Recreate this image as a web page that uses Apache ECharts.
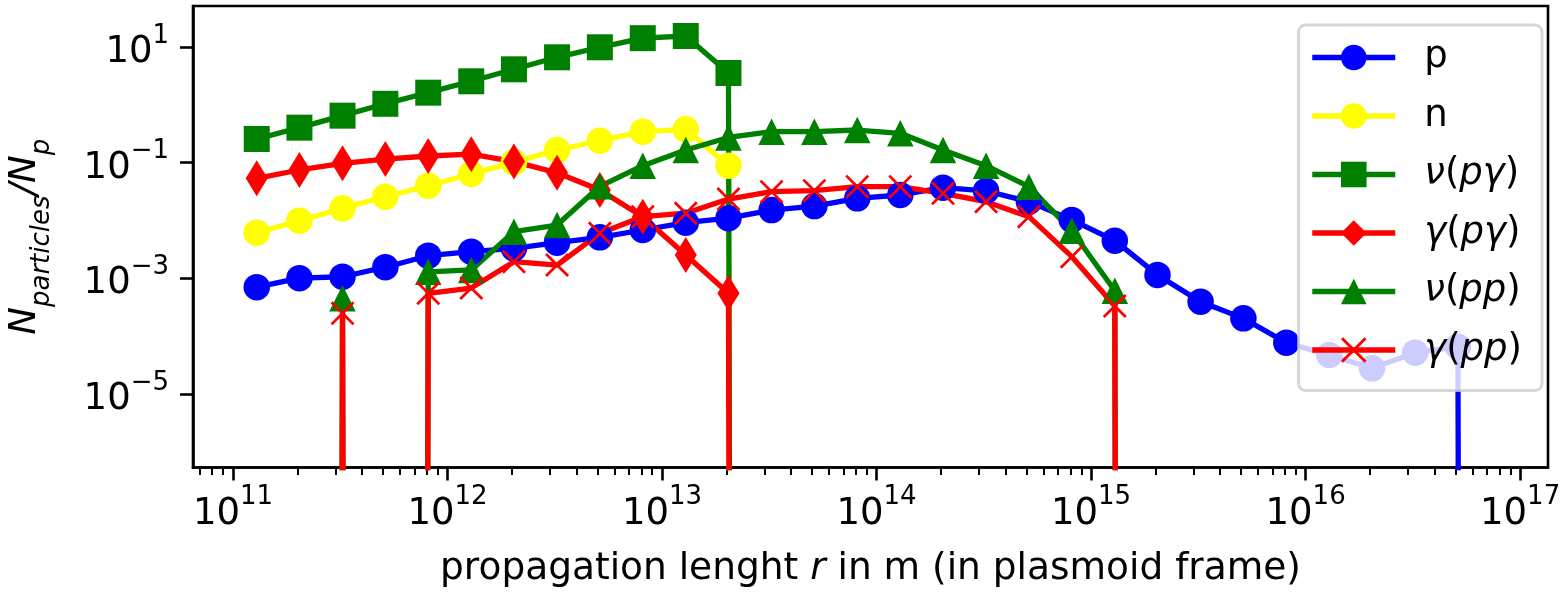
<!DOCTYPE html>
<html><head><meta charset="utf-8">
<script src="https://cdn.jsdelivr.net/npm/echarts@6/dist/echarts.min.js"></script>
<style>html,body{margin:0;padding:0;background:#fff}#c{width:1560px;height:592px}</style>
</head><body><div id="c"></div>
<script>
// propagation length r (m)
const r = [1.29e11, 2.04e11, 3.24e11, 5.13e11, 8.13e11, 1.29e12, 2.04e12, 3.24e12, 5.13e12, 8.13e12,
           1.29e13, 2.04e13, 3.24e13, 5.13e13, 8.13e13, 1.29e14, 2.04e14, 3.24e14, 5.13e14, 8.13e14,
           1.29e15, 2.04e15, 3.24e15, 5.13e15, 8.13e15, 1.29e16, 2.04e16, 3.24e16, 5.13e16, 8.13e16];
const pData = [7.0e-4, 1.0e-3, 1.06e-3, 1.55e-3, 2.45e-3, 2.87e-3, 3.29e-3, 4.11e-3, 5.10e-3, 6.82e-3,
               9.12e-3, 1.09e-2, 1.51e-2, 1.77e-2, 2.41e-2, 2.75e-2, 3.68e-2, 3.23e-2, 2.11e-2, 1.02e-2,
               4.46e-3, 1.14e-3, 3.92e-4, 2.02e-4, 7.66e-5, 4.69e-5, 2.76e-5, 5.14e-5, 6.53e-5, 0];
const nData = [6.12e-3, 9.88e-3, 1.62e-2, 2.57e-2, 3.98e-2, 6.35e-2, 0.101, 0.165, 0.239, 0.343,
               0.377, 0.0883, 0, 0, 0, 0, 0, 0, 0, 0,
               0, 0, 0, 0, 0, 0, 0, 0, 0, 0];
const nuPgData = [0.256, 0.402, 0.648, 1.04, 1.62, 2.55, 4.11, 6.63, 9.88, 14.2,
                  15.5, 3.55, 0, 0, 0, 0, 0, 0, 0, 0,
                  0, 0, 0, 0, 0, 0, 0, 0, 0, 0];
const gammaPgData = [0.0535, 0.0745, 0.0972, 0.115, 0.130, 0.140, 0.104, 0.0668, 0.0336, 0.0116,
                     2.52e-3, 5.48e-4, 0, 0, 0, 0, 0, 0, 0, 0,
                     0, 0, 0, 0, 0, 0, 0, 0, 0, 0];
const nuPpData = [0, 0, 4.49e-4, 0, 1.29e-3, 1.39e-3, 6.37e-3, 8.32e-3, 0.0389, 0.0883,
                  0.165, 0.272, 0.343, 0.343, 0.366, 0.321, 0.165, 0.0883, 0.0383, 6.64e-3,
                  6.08e-4, 0, 0, 0, 0, 0, 0, 0, 0, 0];
const gammaPpData = [0, 0, 2.47e-4, 0, 5.48e-4, 6.76e-4, 1.93e-3, 1.69e-3, 5.98e-3, 0.0116,
                     0.0133, 0.0234, 0.0314, 0.0327, 0.0383, 0.0383, 0.0294, 0.0211, 0.0116, 2.36e-3,
                     3.30e-4, 0, 0, 0, 0, 0, 0, 0, 0, 0];
const seriesNames = ['p', 'n', 'ν(pγ)', 'γ(pγ)', 'ν(pp)', 'γ(pp)'];
const xTickExps = [11, 12, 13, 14, 15, 16, 17];
const yTickExps = [-5, -3, -1, 1];
const xTitle = 'propagation lenght r in m (in plasmoid frame)';

const FONT = 'DejaVu Sans';
const FS = 37;
const LW = 5.3;
const FLOOR = -300; // log10 of a zero value: far below the axis, clipped like matplotlib
const toPts = vals => r.map((x, i) => [Math.log10(x), vals[i] > 0 ? Math.log10(vals[i]) : FLOOR]);

const X_PATH = 'path://M0,0.8L0.8,0L5,4.2L9.2,0L10,0.8L5.8,5L10,9.2L9.2,10L5,5.8L0.8,10L0,9.2L4.2,5Z';
const D_PATH = 'path://M11,0L22,18L11,36L0,18Z';
const styles = [
  {data: pData, color: '#0000ff', symbol: 'circle', size: 26.5},
  {data: nData, color: '#ffff00', symbol: 'circle', size: 26.5},
  {data: nuPgData, color: '#008000', symbol: 'rect', size: 26},
  {data: gammaPgData, color: '#ff0000', symbol: D_PATH, size: 36},
  {data: nuPpData, color: '#008000', symbol: 'triangle', size: 26.5},
  {data: gammaPpData, color: '#ff0000', symbol: X_PATH, size: 24}
];

const series = styles.map((s, i) => ({
  name: seriesNames[i],
  type: 'line',
  data: toPts(s.data),
  symbol: s.symbol,
  symbolSize: s.size,
  symbolKeepAspect: true,
  showSymbol: true,
  clip: true,
  lineStyle: {color: s.color, width: LW},
  itemStyle: {color: s.color, borderWidth: 0},
  emphasis: {disabled: true},
  animation: false
}));

const minorTicks = [];
for (let e = 10; e <= 17; e++) for (let m = 2; m <= 9; m++) minorTicks.push(e + Math.log10(m));

const txt = (extra) => Object.assign({fontFamily: FONT, fontSize: FS, color: '#000'}, extra);
const supRich = {
  b: txt({lineHeight: 48, verticalAlign: 'bottom'}),
  s: txt({fontSize: 26, lineHeight: 26, verticalAlign: 'top'})
};
const fmtExp = v => '{b|10}{s|' + String(Math.round(v)).replace('-', '\u2212') + '}';

const legendRich = {
  up: txt({lineHeight: 40}),
  it: txt({lineHeight: 40, fontStyle: 'italic'})
};
const legendText = {
  'p': '{up|p}', 'n': '{up|n}',
  'ν(pγ)': '{it|ν}{up|(}{it|pγ}{up|)}',
  'γ(pγ)': '{it|γ}{up|(}{it|pγ}{up|)}',
  'ν(pp)': '{it|ν}{up|(}{it|pp}{up|)}',
  'γ(pp)': '{it|γ}{up|(}{it|pp}{up|)}'
};

const parts = xTitle.split(' r ');
const xName = '{a|' + parts[0] + ' }{i|r}{a| ' + parts[1] + '}';

const chart = echarts.init(document.getElementById('c'), null, {renderer: 'canvas'});
chart.setOption({
  animation: false,
  backgroundColor: '#fff',
  grid: {left: 193, right: 12, top: 6, bottom: 124.5, show: true, borderColor: '#000', borderWidth: 2.6,
         backgroundColor: 'transparent', containLabel: false, outerBoundsMode: 'none'},
  xAxis: [{
    type: 'value', min: 10.8135, max: 17.13,
    name: xName, nameLocation: 'middle', nameGap: 80,
    nameTextStyle: {rich: {a: txt({fontSize: 37.5, lineHeight: 44}), i: txt({fontSize: 37.5, lineHeight: 44, fontStyle: 'italic'})}},
    axisLine: {show: true, onZero: false, lineStyle: {color: '#000', width: 2.6}},
    axisTick: {show: true, length: 13, lineStyle: {color: '#000', width: 2.6}, customValues: xTickExps},
    axisLabel: {show: true, margin: 17, customValues: xTickExps, formatter: fmtExp, rich: supRich},
    splitLine: {show: false}, minorTick: {show: false}
  }, {
    type: 'value', min: 10.8135, max: 17.13, position: 'bottom',
    axisLine: {show: false, onZero: false},
    axisTick: {show: true, length: 7.5, lineStyle: {color: '#000', width: 2}, customValues: minorTicks},
    axisLabel: {show: false},
    splitLine: {show: false}
  }],
  yAxis: {
    type: 'value', min: -6.275, max: 1.709,
    name: '{N|N}{sub|particles}{N|/N}{sub|p}', nameLocation: 'middle', nameRotate: 90, nameGap: 138,
    nameTextStyle: {rich: {
      N: txt({fontStyle: 'italic', lineHeight: 48, verticalAlign: 'top'}),
      sub: txt({fontStyle: 'italic', fontSize: 26, lineHeight: 26, verticalAlign: 'bottom'})
    }},
    axisLine: {show: true, onZero: false, lineStyle: {color: '#000', width: 2.6}},
    axisTick: {show: true, length: 13, lineStyle: {color: '#000', width: 2.6}, customValues: yTickExps},
    axisLabel: {show: true, margin: 24, customValues: yTickExps, formatter: fmtExp, rich: supRich},
    splitLine: {show: false}, minorTick: {show: false}
  },
  legend: {
    data: seriesNames, orient: 'vertical', right: 18, top: 25, z: 10, selectedMode: false,
    itemWidth: 83, itemHeight: 32, itemGap: 21.5,
    padding: [14, 20, 22, 11],
    lineStyle: {width: LW},
    backgroundColor: 'rgba(255,255,255,0.8)', borderColor: 'rgba(204,204,204,0.8)', borderWidth: 3, borderRadius: 7,
    textStyle: {fontFamily: FONT, fontSize: FS, color: '#000', padding: [0, 0, 0, 24], rich: legendRich},
    formatter: name => legendText[name]
  },
  series: series
});
</script>
</body></html>
